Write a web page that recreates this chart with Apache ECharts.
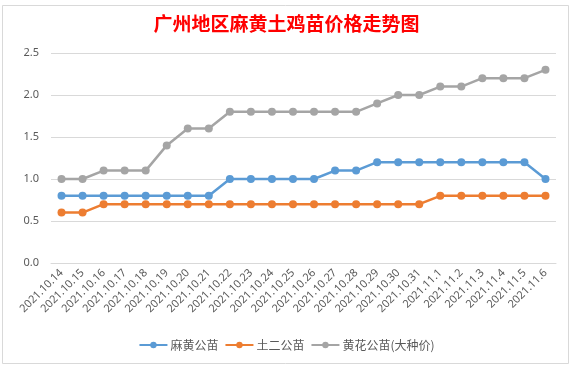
<!DOCTYPE html>
<html><head><meta charset="utf-8">
<script src="https://cdn.jsdelivr.net/npm/echarts@6/dist/echarts.min.js"></script>
<style>html,body{margin:0;padding:0;background:#fff}#c{width:573px;height:368px}</style>
</head><body><div id="c"></div>
<script>
var categories = ['2021.10.14','2021.10.15','2021.10.16','2021.10.17','2021.10.18','2021.10.19','2021.10.20','2021.10.21','2021.10.22','2021.10.23','2021.10.24','2021.10.25','2021.10.26','2021.10.27','2021.10.28','2021.10.29','2021.10.30','2021.10.31','2021.11.1','2021.11.2','2021.11.3','2021.11.4','2021.11.5','2021.11.6'];
var mahuang = [0.8,0.8,0.8,0.8,0.8,0.8,0.8,0.8,1.0,1.0,1.0,1.0,1.0,1.1,1.1,1.2,1.2,1.2,1.2,1.2,1.2,1.2,1.2,1.0];
var tuer = [0.6,0.6,0.7,0.7,0.7,0.7,0.7,0.7,0.7,0.7,0.7,0.7,0.7,0.7,0.7,0.7,0.7,0.7,0.8,0.8,0.8,0.8,0.8,0.8];
var huanghua = [1.0,1.0,1.1,1.1,1.1,1.4,1.6,1.6,1.8,1.8,1.8,1.8,1.8,1.8,1.8,1.9,2.0,2.0,2.1,2.1,2.2,2.2,2.2,2.3];
var seriesNames = ['麻黄公苗','土二公苗','黄花公苗(大种价)'];
var colors = ['#5B9BD5','#ED7D31','#A5A5A5'];
var chart = echarts.init(document.getElementById('c'));
function mk(name, data, color){
  return {name:name, type:'line', data:data, symbol:'circle', symbolSize:8,
    itemStyle:{color:color}, lineStyle:{color:color, width:2.5}};
}
chart.setOption({
  animation:false,
  backgroundColor:'#fff',
  color:colors,
  title:{text:'广州地区麻黄土鸡苗价格走势图', left:'center', top:9,
    textStyle:{color:'#FF0000', fontSize:19, fontWeight:'bold', fontFamily:'Noto Sans CJK SC'}},
  grid:{left:51, right:17, top:53, bottom:105},
  legend:{bottom:12, left:'center', itemWidth:28, itemHeight:8, itemGap:6,
    textStyle:{color:'#595959', fontSize:12, fontFamily:'Noto Sans CJK SC', padding:[0,0,0,-2]},
    data:seriesNames},
  xAxis:{type:'category', data:categories, boundaryGap:true,
    axisLine:{lineStyle:{color:'#D9D9D9'}}, axisTick:{show:false},
    axisLabel:{rotate:45, interval:0, color:'#595959', fontSize:11, fontFamily:'Noto Sans', margin:8}},
  yAxis:{type:'value', min:0, max:2.5, interval:0.5,
    axisLine:{show:false}, axisTick:{show:false},
    splitLine:{lineStyle:{color:'#D9D9D9'}},
    axisLabel:{color:'#595959', fontSize:11, fontFamily:'Noto Sans', margin:12,
      formatter:function(v){return v.toFixed(1);}}},
  graphic:[{type:'rect', shape:{x:2.5, y:5.5, width:566, height:358}, style:{fill:null, stroke:'#D9D9D9', lineWidth:1}, silent:true}],
  series:[mk(seriesNames[0], mahuang, colors[0]), mk(seriesNames[1], tuer, colors[1]), mk(seriesNames[2], huanghua, colors[2])]
});
</script></body></html>
